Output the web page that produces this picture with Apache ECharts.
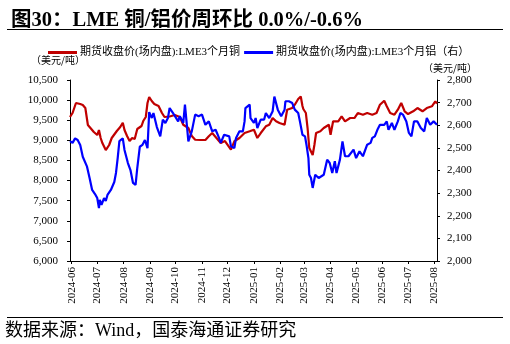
<!DOCTYPE html>
<html>
<head>
<meta charset="utf-8">
<script src="https://cdn.jsdelivr.net/npm/echarts@6/dist/echarts.min.js"></script>
<style>
html,body{margin:0;padding:0;background:#fff;}
#chart{width:510px;height:344px;}
</style>
</head>
<body>
<div id="chart"></div>
<script>
// ---- Data ----
const titleText = '图30：LME 铜/铝价周环比 0.0%/-0.6%';
const sourceText = '数据来源：Wind，国泰海通证券研究';
const copperName = '期货收盘价(场内盘):LME3个月铜';
const aluminumName = '期货收盘价(场内盘):LME3个月铝（右）';
const unitLabel = '（美元/吨）';

const copperDates = [
 '2024-05-30','2024-06-02','2024-06-06','2024-06-11','2024-06-14','2024-06-17','2024-06-20','2024-06-27',
 '2024-07-01','2024-07-03','2024-07-05','2024-07-07','2024-07-11','2024-07-15','2024-07-18','2024-07-24','2024-07-28','2024-07-31',
 '2024-08-02','2024-08-05','2024-08-08','2024-08-11','2024-08-14','2024-08-17','2024-08-22','2024-08-24','2024-08-27','2024-08-29','2024-08-31',
 '2024-09-03','2024-09-06','2024-09-11','2024-09-15','2024-09-18','2024-09-24','2024-09-30',
 '2024-10-06','2024-10-10','2024-10-16','2024-10-20','2024-10-24','2024-10-30',
 '2024-11-05','2024-11-09','2024-11-13','2024-11-19','2024-11-23','2024-11-28',
 '2024-12-05','2024-12-09','2024-12-15','2024-12-21','2024-12-27',
 '2025-01-01','2025-01-05','2025-01-09','2025-01-15','2025-01-19','2025-01-23','2025-01-27','2025-01-31',
 '2025-02-06','2025-02-09','2025-02-15','2025-02-18','2025-02-22','2025-02-25','2025-02-27','2025-02-28',
 '2025-03-03','2025-03-05','2025-03-07','2025-03-11','2025-03-13','2025-03-15','2025-03-20','2025-03-24','2025-03-30',
 '2025-04-01','2025-04-04','2025-04-10','2025-04-14','2025-04-18','2025-04-24','2025-04-29',
 '2025-05-03','2025-05-09','2025-05-14','2025-05-20','2025-05-25','2025-05-29',
 '2025-06-03','2025-06-06','2025-06-10','2025-06-15','2025-06-19','2025-06-23','2025-06-27',
 '2025-07-01','2025-07-07','2025-07-12','2025-07-18','2025-07-23','2025-07-29',
 '2025-08-02','2025-08-04'
];
const copperValues = [
 9580,9680,9928,9903,9878,9804,9381,9207,
 9132,9257,9058,8933,8759,8884,9058,9232,9331,9438,
 9257,9108,8983,9058,9033,9282,9356,9480,9580,9928,10077,
 9978,9903,9853,9679,9580,9592,9629,
 9580,9388,9306,9108,9015,9008,
 9008,9100,9182,9033,8933,8983,
 8767,8976,9058,9182,9224,
 9264,9058,9182,9349,9388,9555,9473,9431,
 9388,9761,9803,9886,10027,10090,9853,9779,
 9679,9306,8809,8635,8884,9182,9224,9306,9388,
 9140,9473,9473,9597,9473,9555,9555,
 9679,9637,9679,9637,9679,9886,
 9985,9846,9679,9637,9761,9928,9722,
 9654,9722,9803,9722,9803,9846,
 9970,9915
];

const aluminumDates = [
 '2024-05-30','2024-06-02','2024-06-05','2024-06-08','2024-06-11','2024-06-14','2024-06-19','2024-06-22','2024-06-25','2024-06-29',
 '2024-07-01','2024-07-03','2024-07-04','2024-07-06','2024-07-09','2024-07-11','2024-07-13','2024-07-17','2024-07-21','2024-07-23','2024-07-25','2024-07-27','2024-07-31',
 '2024-08-02','2024-08-06','2024-08-09','2024-08-12','2024-08-15','2024-08-17','2024-08-20','2024-08-23','2024-08-26','2024-08-29','2024-08-31',
 '2024-09-03','2024-09-05','2024-09-09','2024-09-13','2024-09-16','2024-09-19','2024-09-22','2024-09-24','2024-09-28','2024-09-30',
 '2024-10-04','2024-10-06','2024-10-10','2024-10-12','2024-10-16','2024-10-20','2024-10-24','2024-10-28',
 '2024-11-01','2024-11-05','2024-11-09','2024-11-13','2024-11-17','2024-11-21','2024-11-23','2024-11-27',
 '2024-12-03','2024-12-05','2024-12-09','2024-12-11','2024-12-15','2024-12-19','2024-12-21','2024-12-22','2024-12-27','2024-12-28',
 '2025-01-01','2025-01-03','2025-01-05','2025-01-09','2025-01-13','2025-01-15','2025-01-19','2025-01-23','2025-01-25','2025-01-29',
 '2025-02-02','2025-02-06','2025-02-07','2025-02-11','2025-02-15','2025-02-18','2025-02-22','2025-02-24','2025-02-27',
 '2025-03-02','2025-03-04','2025-03-06','2025-03-07','2025-03-09','2025-03-11','2025-03-14','2025-03-18','2025-03-24','2025-03-28','2025-03-31',
 '2025-04-03','2025-04-06','2025-04-08','2025-04-12','2025-04-15','2025-04-18','2025-04-22','2025-04-28',
 '2025-05-01','2025-05-05','2025-05-09','2025-05-14','2025-05-18','2025-05-20','2025-05-23','2025-05-26','2025-05-29',
 '2025-06-03','2025-06-06','2025-06-08','2025-06-12','2025-06-15','2025-06-19','2025-06-22','2025-06-25','2025-06-29',
 '2025-07-02','2025-07-05','2025-07-08','2025-07-12','2025-07-16','2025-07-20','2025-07-23','2025-07-27','2025-07-31',
 '2025-08-04'
];
const aluminumValues = [
 2530,2522,2542,2535,2513,2461,2417,2367,2314,2292,
 2278,2234,2270,2248,2278,2265,2292,2314,2349,2389,2455,2530,2542,
 2491,2433,2402,2345,2336,2411,2505,2513,2535,2499,2658,
 2632,2654,2592,2551,2625,2610,2632,2676,2654,2662,
 2617,2640,2610,2691,2529,2573,2647,2640,
 2647,2602,2617,2573,2580,2544,2522,2558,
 2551,2507,2499,2544,2573,2573,2617,2676,2691,2632,
 2610,2632,2588,2625,2625,2654,2632,2662,2727,2669,
 2640,2669,2706,2706,2698,2669,2654,2617,2558,
 2551,2507,2455,2381,2367,2323,2381,2367,2381,2448,2433,
 2389,2441,2389,2448,2529,2463,2463,2492,
 2455,2485,2463,2514,2522,2544,2551,2580,2602,
 2602,2617,2580,2610,2580,2617,2654,2647,2617,
 2566,2551,2617,2617,2588,2573,2632,2602,2617,
 2602
];

const leftTicks = {min: 6000, max: 10500, interval: 500};
const rightTicks = {min: 2000, max: 2800, interval: 100};
const xRange = {min: '2024-05-30', max: '2025-08-04'};

// ---- Build chart ----
function toTs(s){ const p = s.split('-').map(Number); return new Date(p[0], p[1]-1, p[2]).getTime(); }
const copperData = copperDates.map((d,i)=>[toTs(d), copperValues[i]]);
const aluminumData = aluminumDates.map((d,i)=>[toTs(d), aluminumValues[i]]);

const serif = "'Liberation Serif','Times New Roman','Noto Sans CJK SC',serif";
const fmt = v => Number(v).toLocaleString('en-US');

const chart = echarts.init(document.getElementById('chart'), null, {renderer:'canvas'});
chart.setOption({
  animation: false,
  backgroundColor: '#fff',
  title: {
    text: titleText, left: 6, top: 5,
    textStyle: {fontFamily: serif, fontSize: 20.5, fontWeight: 'bold', color: '#000'}
  },
  legend: {
    left: 43, top: 42, itemGap: 4, itemWidth: 29, itemHeight: 3, icon: 'rect',
    textStyle: {fontFamily: serif, fontSize: 11, color: '#000', padding: [0,0,0,-2]},
    data: [copperName, aluminumName]
  },
  grid: {left: 70, right: 73, top: 80, bottom: 83, containLabel: false},
  xAxis: {
    type: 'time',
    min: toTs(xRange.min), max: toTs(xRange.max),
    splitNumber: 14,
    axisLine: {show: true, lineStyle: {color: '#000', width: 1}},
    axisTick: {show: true, inside: false, length: 3, lineStyle: {color: '#000'}},
    splitLine: {show: false},
    axisLabel: {
      rotate: 90, margin: 6, color: '#000', fontFamily: serif, fontSize: 11,
      hideOverlap: false,
      formatter: function(v){
        const d = new Date(v);
        if (d.getDate() !== 1) return '';
        return d.getFullYear() + '-' + String(d.getMonth()+1).padStart(2,'0');
      }
    }
  },
  yAxis: [
    {
      type: 'value', position: 'left',
      min: leftTicks.min, max: leftTicks.max, interval: leftTicks.interval,
      axisLine: {show: true, lineStyle: {color: '#000', width: 1}},
      axisTick: {show: true, length: 3, lineStyle: {color: '#000'}},
      splitLine: {show: false},
      axisLabel: {margin: 12, color: '#000', fontFamily: serif, fontSize: 11, formatter: fmt}
    },
    {
      type: 'value', position: 'right',
      min: rightTicks.min, max: rightTicks.max, interval: rightTicks.interval,
      axisLine: {show: true, lineStyle: {color: '#000', width: 1}},
      axisTick: {show: true, length: 3, lineStyle: {color: '#000'}},
      splitLine: {show: false},
      axisLabel: {margin: 10, color: '#000', fontFamily: serif, fontSize: 11, formatter: fmt}
    }
  ],
  series: [
    {
      name: copperName, type: 'line', yAxisIndex: 0, data: copperData,
      showSymbol: false, symbol: 'none', color: '#C00000',
      lineStyle: {color: '#C00000', width: 2.2}
    },
    {
      name: aluminumName, type: 'line', yAxisIndex: 1, data: aluminumData,
      showSymbol: false, symbol: 'none', color: '#0000FF',
      lineStyle: {color: '#0000FF', width: 2.2}
    }
  ],
  graphic: [
    {type: 'line', shape: {x1: 7, y1: 29.5, x2: 503, y2: 29.5}, style: {stroke: '#000', lineWidth: 1}},
    {type: 'line', shape: {x1: 7, y1: 317.5, x2: 503, y2: 317.5}, style: {stroke: '#000', lineWidth: 1}},
    {type: 'text', left: 31, top: 55, style: {text: unitLabel, font: "10px 'Noto Sans CJK SC'", fill: '#000'}},
    {type: 'text', left: 423, top: 63, style: {text: unitLabel, font: "10px 'Noto Sans CJK SC'", fill: '#000'}},
    {type: 'text', left: 5, top: 322, style: {text: sourceText, font: "18px 'Liberation Serif','Noto Sans CJK SC'", fill: '#000'}}
  ]
});
</script>
</body>
</html>
